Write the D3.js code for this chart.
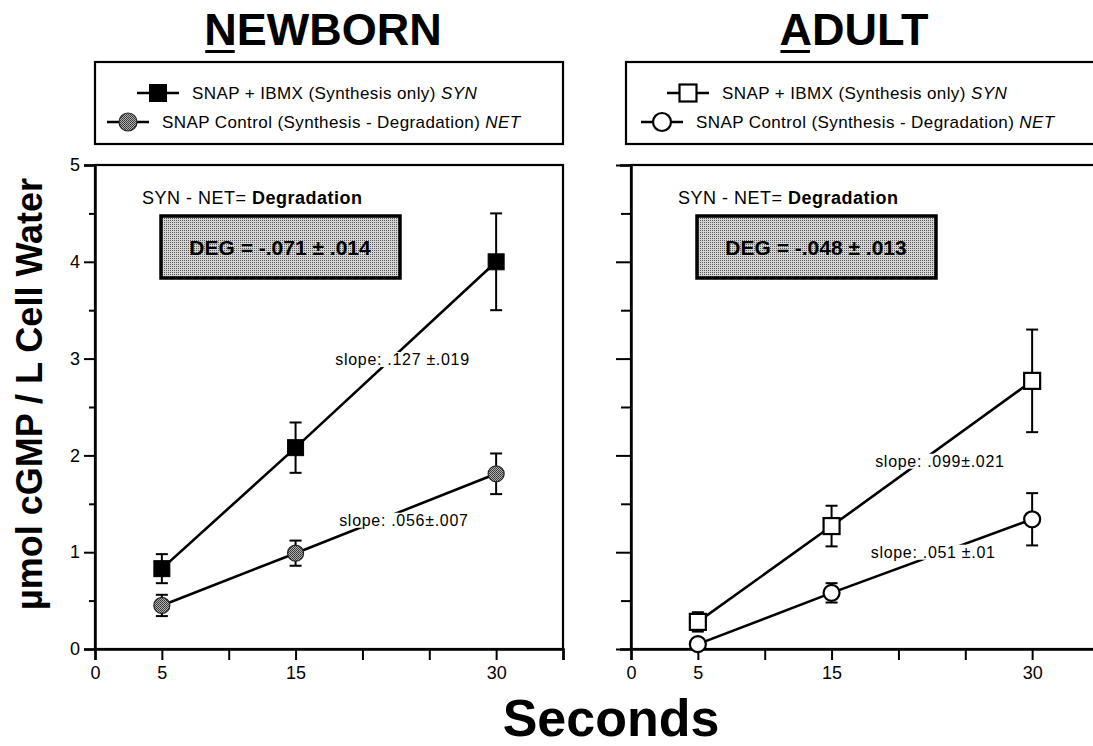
<!DOCTYPE html>
<html>
<head>
<meta charset="utf-8">
<script src="https://cdn.jsdelivr.net/npm/d3@7"></script>
<style>
  body { margin: 0; background: #fff; }
  svg { display: block; font-family: "Liberation Sans", Arial, Helvetica, sans-serif; }
</style>
</head>
<body>
<svg id="chart" width="1093" height="746"></svg>
<script>
// ---- data ----
var times = [5, 15, 30];
var xTickValues = [0, 5, 10, 15, 20, 25, 30, 35];
var xTickLabels = [0, 5, 15, 30];
var yTickLabels = [0, 1, 2, 3, 4, 5];

var newbornSyn = [0.83, 2.08, 4.0];
var newbornSynErr = [0.15, 0.26, 0.5];
var newbornNet = [0.45, 0.99, 1.81];
var newbornNetErr = [0.11, 0.13, 0.21];

var adultSyn = [0.28, 1.27, 2.77];
var adultSynErr = [0.10, 0.21, 0.53];
var adultNet = [0.05, 0.58, 1.34];
var adultNetErr = [0.0, 0.10, 0.27];

var panelTitles = ["NEWBORN", "ADULT"];
var legendSyn = ["SNAP + IBMX (Synthesis only) ", "SNAP + IBMX (Synthesis only) "];
var legendNet = ["SNAP Control (Synthesis - Degradation) ", "SNAP Control (Synthesis - Degradation) "];
var degText = ["DEG = -.071 \u00b1 .014", "DEG = -.048 \u00b1 .013"];
var slopeSyn = ["slope: .127 \u00b1.019", "slope: .099\u00b1.021"];
var slopeNet = ["slope: .056\u00b1.007", "slope: .051 \u00b1.01"];

var svg = d3.select("#chart");
var defs = svg.append("defs");

// halftone fills like the printed original
var ht = defs.append("pattern").attr("id", "boxTone")
    .attr("width", 2).attr("height", 2).attr("patternUnits", "userSpaceOnUse");
ht.append("rect").attr("width", 2).attr("height", 2).attr("fill", "#d4d4d4");
ht.append("rect").attr("width", 1).attr("height", 1).attr("fill", "#5a5a5a");

var ht2 = defs.append("pattern").attr("id", "dotTone")
    .attr("width", 2).attr("height", 2).attr("patternUnits", "userSpaceOnUse");
ht2.append("rect").attr("width", 2).attr("height", 2).attr("fill", "#b0b0b0");
ht2.append("rect").attr("width", 1).attr("height", 1).attr("fill", "#333");
ht2.append("rect").attr("x", 1).attr("y", 1).attr("width", 1).attr("height", 1).attr("fill", "#444");

var y0 = 649, y1 = 165;
var panels = [
    { x0: 95, syn: newbornSyn, synErr: newbornSynErr, net: newbornNet, netErr: newbornNetErr,
      filled: true, labels: true, slopeSynAt: [23.0, 2.99], slopeNetAt: [23.1, 1.33] },
    { x0: 631, syn: adultSyn, synErr: adultSynErr, net: adultNet, netErr: adultNetErr,
      filled: false, labels: false, slopeSynAt: [23.1, 1.94], slopeNetAt: [22.6, 1.0] }
];

function drawMarker(g, kind, filled, cx, cy, size) {
    if (kind === "square") {
        g.append("rect")
            .attr("x", cx - size / 2).attr("y", cy - size / 2)
            .attr("width", size).attr("height", size)
            .attr("fill", filled ? "#000" : "#fff")
            .attr("stroke", "#000").attr("stroke-width", filled ? 1 : 2.2);
    } else {
        g.append("circle")
            .attr("cx", cx).attr("cy", cy).attr("r", size / 2)
            .attr("fill", filled ? "url(#dotTone)" : "#fff")
            .attr("stroke", filled ? "#222" : "#000").attr("stroke-width", filled ? 1.2 : 2.2);
    }
}

panels.forEach(function (p, i) {
    var x = d3.scaleLinear().domain([0, 35]).range([p.x0, p.x0 + 468]);
    var y = d3.scaleLinear().domain([0, 5]).range([y0, y1]);
    var g = svg.append("g");

    // frame
    g.append("rect")
        .attr("x", x(0)).attr("y", y(5))
        .attr("width", x(35) - x(0)).attr("height", y(0) - y(5))
        .attr("fill", "none").attr("stroke", "#000").attr("stroke-width", 2.2);

    // y axis
    var yAxis = g.append("g").attr("transform", "translate(" + x(0) + ",0)")
        .call(d3.axisLeft(y).tickValues(d3.range(0, 5.01, 0.5))
            .tickSize(11).tickPadding(4)
            .tickFormat(function (d) { return p.labels && yTickLabels.indexOf(d) >= 0 ? d : ""; }));
    yAxis.select(".domain").attr("stroke-width", 2.5);
    yAxis.selectAll(".tick line").attr("stroke-width", 2)
        .attr("x2", function (d) { return d % 1 === 0 ? (i === 0 ? -11 : -15) : (i === 0 ? -6 : -10); });
    yAxis.selectAll(".tick text").attr("font-size", 18).attr("fill", "#000")
        .attr("font-family", "Liberation Sans, Arial, sans-serif");

    // x axis
    var xAxis = g.append("g").attr("transform", "translate(0," + y(0) + ")")
        .call(d3.axisBottom(x).tickValues(xTickValues).tickSize(11).tickPadding(6)
            .tickFormat(function (d) { return xTickLabels.indexOf(d) >= 0 ? d : ""; }));
    xAxis.select(".domain").attr("stroke-width", 2.5);
    xAxis.selectAll(".tick line").attr("stroke-width", 2);
    xAxis.selectAll(".tick text").attr("font-size", 18).attr("fill", "#000")
        .attr("font-family", "Liberation Sans, Arial, sans-serif");

    // series lines
    var line = d3.line().x(function (d, k) { return x(times[k]); }).y(function (d) { return y(d); });
    [p.syn, p.net].forEach(function (vals) {
        g.append("path").datum(vals).attr("d", line)
            .attr("fill", "none").attr("stroke", "#000").attr("stroke-width", 2.6);
    });

    // slope labels knock out the line behind them
    [[slopeSyn[i], p.slopeSynAt], [slopeNet[i], p.slopeNetAt]].forEach(function (s) {
        var t = g.append("text")
            .attr("x", x(s[1][0])).attr("y", y(s[1][1]))
            .attr("text-anchor", "middle").attr("dominant-baseline", "central")
            .attr("font-size", 16).attr("letter-spacing", 0.7)
            .text(s[0]);
        var bb = t.node().getBBox();
        g.insert("rect", function () { return t.node(); })
            .attr("x", bb.x - 2).attr("y", bb.y + 1)
            .attr("width", bb.width + 4).attr("height", bb.height - 2)
            .attr("fill", "#fff");
    });

    // error bars
    function errBars(vals, errs) {
        vals.forEach(function (v, k) {
            if (!errs[k]) return;
            var cx = x(times[k]);
            g.append("line").attr("x1", cx).attr("x2", cx)
                .attr("y1", y(v - errs[k])).attr("y2", y(v + errs[k]))
                .attr("stroke", "#000").attr("stroke-width", 2);
            [v - errs[k], v + errs[k]].forEach(function (e) {
                g.append("line").attr("x1", cx - 6).attr("x2", cx + 6)
                    .attr("y1", y(e)).attr("y2", y(e))
                    .attr("stroke", "#000").attr("stroke-width", 2);
            });
        });
    }
    errBars(p.syn, p.synErr);
    errBars(p.net, p.netErr);

    // markers
    p.syn.forEach(function (v, k) { drawMarker(g, "square", p.filled, x(times[k]), y(v), 16); });
    p.net.forEach(function (v, k) { drawMarker(g, "circle", p.filled, x(times[k]), y(v), 16); });

    // "SYN - NET = Degradation"
    var note = g.append("text").attr("x", x(0) + 47).attr("y", 198)
        .attr("dominant-baseline", "central").attr("font-size", 18).attr("letter-spacing", 0.5);
    note.append("tspan").text("SYN - NET= ");
    note.append("tspan").attr("font-weight", "bold").text("Degradation");

    // DEG box
    g.append("rect")
        .attr("x", x(0) + 66).attr("y", 216).attr("width", 239).attr("height", 62)
        .attr("fill", "url(#boxTone)").attr("stroke", "#000").attr("stroke-width", 3.5);
    g.append("text").attr("x", x(0) + 66 + 119).attr("y", 247)
        .attr("text-anchor", "middle").attr("dominant-baseline", "central")
        .attr("font-size", 21).attr("font-weight", "bold")
        .text(degText[i]);

    // title with underlined first letter
    var title = svg.append("text").attr("x", (x(0) + Math.min(x(35), 1093) ) / 2 + (i === 0 ? -6 : -8)).attr("y", 45)
        .attr("text-anchor", "middle").attr("font-size", 45).attr("font-weight", "bold")
        .text(panelTitles[i]);
    var tb = title.node().getBBox();
    var firstW = title.node().getSubStringLength(0, 1);
    svg.append("rect").attr("x", tb.x + 1).attr("y", 50).attr("width", firstW - 3).attr("height", 3).attr("fill", "#000");

    // legend box
    var lx = x(0) - (i === 0 ? 0 : 5);
    svg.append("rect").attr("x", lx).attr("y", 62)
        .attr("width", (i === 0 ? 468 : 480)).attr("height", 82)
        .attr("fill", "none").attr("stroke", "#000").attr("stroke-width", 2.2);
    var items = [
        { kind: "square", text: legendSyn[i], tag: "SYN", lineX: i === 0 ? 42 : 36, yy: 93 },
        { kind: "circle", text: legendNet[i], tag: "NET", lineX: i === 0 ? 12 : 10, yy: 122 }
    ];
    items.forEach(function (it) {
        var ax = x(0) + it.lineX;
        svg.append("line").attr("x1", ax).attr("x2", ax + 42).attr("y1", it.yy).attr("y2", it.yy)
            .attr("stroke", "#000").attr("stroke-width", 2.4);
        drawMarker(svg, it.kind, p.filled, ax + 21, it.yy, it.kind === "square" ? 17 : 18);
        var lt = svg.append("text").attr("x", ax + 55).attr("y", it.yy)
            .attr("dominant-baseline", "central").attr("font-size", 17).attr("letter-spacing", 0.4);
        lt.append("tspan").text(it.text);
        lt.append("tspan").attr("font-style", "italic").text(it.tag);
    });
});

// shared axis titles
svg.append("text")
    .attr("transform", "translate(42,394) rotate(-90)")
    .attr("text-anchor", "middle").attr("font-size", 36).attr("font-weight", "bold")
    .text("\u00b5mol cGMP / L Cell Water");

svg.append("text").attr("x", 611).attr("y", 736)
    .attr("text-anchor", "middle").attr("font-size", 52).attr("font-weight", "bold")
    .text("Seconds");
</script>
</body>
</html>
